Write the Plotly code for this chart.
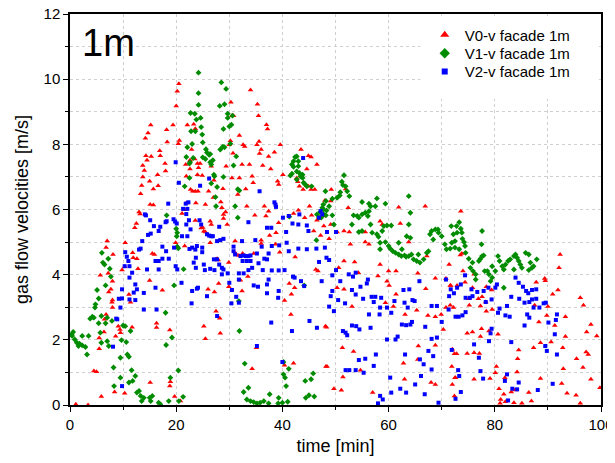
import plotly.graph_objects as go

# V0-v facade 1m  (time [min], velocity [m/s])
v0_pts = [
    (20.5, 9.86), (20.2, 9.63), (20.0, 9.18), (15.2, 8.59), (14.7, 8.35), (14.2, 8.19), (18.2, 8.45),
    (19.4, 8.59), (22.1, 8.59), (23.3, 8.62), (23.6, 8.48), (18.3, 8.07), (20.4, 8.02), (20.6, 8.12),
    (16.9, 7.80), (17.0, 7.65), (15.3, 7.63), (14.3, 7.65), (14.5, 7.51), (13.7, 7.35), (14.0, 7.20),
    (17.9, 7.41), (18.0, 7.18), (16.5, 7.07), (13.7, 7.00), (15.0, 6.87), (13.5, 6.74), (15.7, 6.63),
    (16.6, 6.73), (13.3, 6.48), (15.1, 6.15), (21.8, 7.38), (22.6, 7.51), (23.5, 7.55), (24.0, 7.41),
    (22.6, 7.24), (21.9, 7.02), (22.7, 6.61), (23.1, 6.56), (21.9, 6.20), (24.0, 7.07), (23.6, 6.56),
    (15.7, 6.14), (13.0, 5.92), (13.2, 5.86), (21.1, 5.88), (21.6, 5.99), (23.6, 5.66), (12.5, 5.57),
    (12.2, 5.44), (7.0, 5.03), (6.8, 4.83), (8.1, 4.62), (10.4, 4.98), (11.8, 4.67), (11.9, 4.52),
    (12.6, 4.49), (15.5, 4.65), (15.9, 4.62), (19.9, 4.98), (21.6, 4.88), (12.8, 4.18), (9.8, 4.14),
    (10.3, 4.24), (7.2, 4.04), (5.7, 3.98), (15.0, 3.82), (17.4, 3.52), (8.0, 3.80), (7.7, 3.55),
    (7.3, 3.47), (8.0, 3.22), (7.9, 3.15), (11.1, 3.39), (11.4, 3.15), (8.0, 2.99), (6.8, 2.78),
    (6.5, 2.63), (9.1, 2.42), (9.4, 2.32), (11.7, 2.39), (16.3, 2.51), (16.3, 2.38), (18.8, 2.30),
    (9.5, 2.22), (8.6, 2.11), (5.5, 2.06), (6.4, 2.24), (5.5, 1.73), (4.5, 1.04), (5.0, 1.02),
    (5.9, 0.26), (8.4, 0.40), (10.3, 0.36), (15.1, 0.69), (18.9, 0.71), (18.8, 0.58), (19.7, 0.26),
    (1.1, 0.02), (20.8, 0.12), (3.4, 0.0),
    (34.0, 9.67), (35.3, 9.23), (35.5, 8.88), (30.3, 9.29), (30.5, 8.88), (30.8, 8.88), (37.0, 8.60),
    (37.2, 8.47), (31.9, 8.27), (30.2, 8.11), (30.0, 7.99), (35.6, 8.09), (35.2, 7.99), (32.6, 7.99),
    (32.9, 7.93), (36.0, 7.84), (35.7, 7.72), (39.6, 7.99), (38.5, 7.76), (37.4, 7.63), (30.7, 7.73),
    (33.8, 7.38), (32.4, 7.38), (36.3, 7.35), (37.8, 7.24), (40.1, 7.07), (34.3, 7.02), (29.4, 7.33),
    (30.5, 6.97), (31.9, 6.97), (34.5, 6.82), (39.1, 6.87), (39.3, 6.77), (33.1, 6.63), (28.8, 6.64),
    (27.1, 6.90), (26.6, 7.33), (24.5, 7.41), (24.2, 7.28), (22.9, 7.84), (24.9, 7.04), (24.1, 6.56),
    (26.1, 6.56), (27.0, 6.37), (28.4, 6.23), (28.6, 6.05), (25.5, 6.15), (23.7, 6.20), (31.6, 6.46),
    (33.3, 6.10), (36.6, 6.10), (45.1, 6.10), (43.9, 6.61), (43.5, 7.84), (44.9, 7.65), (45.4, 7.61),
    (46.5, 7.38), (44.6, 7.24), (42.7, 6.97), (42.9, 6.85), (43.2, 6.71), (46.1, 6.61), (44.9, 6.71),
    (45.4, 6.61),
    (28.9, 5.85), (29.3, 5.92), (37.4, 5.95), (34.8, 5.82), (36.9, 5.80), (39.3, 5.59), (37.6, 5.20),
    (38.8, 5.29), (42.1, 5.88), (43.0, 5.98), (44.2, 5.75), (45.5, 5.82), (46.5, 5.67), (45.9, 5.34),
    (47.2, 5.20), (47.6, 5.80), (25.0, 5.45), (24.7, 5.43), (25.2, 5.33), (26.4, 5.64), (26.6, 5.54),
    (28.9, 5.72), (29.6, 5.54), (25.5, 5.31), (26.4, 4.98), (31.1, 5.03), (36.0, 5.06), (36.0, 4.96),
    (38.7, 4.93), (39.5, 4.69), (31.2, 4.65), (31.8, 4.59), (32.5, 4.65), (34.6, 4.65), (27.7, 4.49),
    (27.9, 4.45), (29.9, 4.37), (42.4, 4.54), (46.3, 4.16), (46.7, 4.11), (32.1, 3.83), (33.5, 3.94),
    (29.9, 3.63), (28.0, 3.73), (26.0, 3.55), (27.2, 3.47), (32.4, 3.50), (41.3, 3.73), (42.3, 3.60),
    (41.7, 3.40), (40.4, 3.21), (27.5, 2.88), (28.2, 2.66), (25.2, 2.42), (28.3, 2.20), (25.5, 2.03),
    (41.6, 2.78), (48.1, 2.42), (35.1, 1.76), (34.3, 1.11), (40.4, 1.22), (42.1, 1.28), (48.2, 1.18),
    (49.2, 6.61), (48.0, 6.28), (49.1, 6.26), (51.9, 6.63), (52.4, 6.05), (61.9, 6.07), (66.9, 6.10),
    (47.8, 5.49), (49.1, 5.54), (50.3, 5.31), (51.6, 5.34), (52.6, 5.31), (55.6, 5.31), (58.4, 5.64),
    (58.8, 5.54), (62.2, 5.57), (48.8, 5.10), (52.8, 4.93), (55.6, 5.00), (56.3, 4.93), (63.8, 5.00),
    (67.2, 4.57), (51.6, 4.42), (53.6, 4.39), (58.4, 4.31), (50.6, 4.21), (54.3, 4.06), (58.0, 3.96),
    (60.0, 4.11), (61.4, 4.11), (65.5, 4.04), (68.8, 3.89), (70.8, 3.88), (60.1, 3.67), (50.3, 3.60),
    (51.6, 3.55), (67.0, 3.57), (71.6, 3.67), (59.7, 3.80), (61.4, 3.40), (53.1, 3.02), (59.4, 3.14),
    (60.9, 3.02), (63.1, 2.78), (65.3, 2.91), (67.4, 2.75), (68.8, 2.71), (69.9, 2.78), (70.8, 2.99),
    (71.6, 3.06), (72.2, 2.99), (48.3, 2.39), (70.3, 2.32), (51.3, 1.76), (53.4, 1.64), (65.6, 1.81),
    (68.8, 1.83), (72.4, 1.57), (48.4, 1.18), (54.7, 1.07), (62.8, 1.28), (65.5, 1.40), (51.4, 0.86),
    (63.0, 0.79), (68.0, 0.69), (72.5, 0.84), (49.7, 0.50), (51.1, 0.45), (57.0, 0.38), (68.8, 0.63),
    (72.4, 0.28),
    (73.6, 5.95), (92.3, 4.62), (92.1, 4.21), (73.8, 4.65), (73.5, 4.60), (71.4, 4.31), (74.0, 4.11),
    (74.4, 3.77), (72.9, 3.67), (71.7, 3.67), (76.1, 4.01), (75.8, 3.60), (78.4, 3.63), (79.4, 3.53),
    (76.9, 3.26), (77.6, 3.32), (78.3, 3.16), (75.1, 3.26), (75.2, 3.06), (77.3, 3.04), (79.5, 2.93),
    (78.4, 2.88), (87.8, 3.77), (89.4, 3.88), (89.5, 3.81), (90.9, 3.40), (91.9, 3.53), (90.0, 3.02),
    (87.5, 3.06), (96.1, 3.29), (96.7, 3.06), (88.3, 2.55), (89.8, 2.75), (91.3, 2.44), (93.3, 2.71),
    (98.1, 2.47), (97.3, 2.24), (99.2, 2.12), (93.3, 2.10), (74.8, 2.20), (75.8, 2.24), (77.5, 2.34),
    (77.3, 2.10), (80.6, 2.17), (78.9, 2.27), (72.0, 1.71), (72.8, 1.57), (74.8, 1.58), (76.1, 1.60),
    (77.1, 1.58), (84.5, 1.69), (87.3, 1.76), (88.6, 1.91), (90.6, 1.93), (92.8, 1.76), (97.2, 1.63),
    (95.4, 1.42), (97.6, 1.55), (84.3, 1.42), (80.3, 1.18), (80.1, 0.99), (84.2, 1.01), (92.9, 1.11),
    (96.6, 1.15), (71.9, 1.18), (72.6, 0.84), (76.1, 0.79), (79.1, 0.81), (81.9, 0.84), (88.6, 0.81),
    (98.1, 0.79), (72.0, 0.63), (80.8, 0.50), (81.7, 0.33), (83.1, 0.40), (83.8, 0.46), (86.4, 0.38),
    (92.6, 0.66), (93.6, 0.36), (95.3, 0.30), (81.1, 0.17), (83.6, 0.07), (85.1, 0.05), (86.9, 0.12),
    (96.1, 0.05), (99.8, 0.53), (81.0, 0.05), (82.0, 0.10),
]

# V1-v facade 1m
v1_pts = [
    (6.0, 4.67), (7.2, 4.49), (6.2, 4.37), (6.5, 4.31), (7.5, 4.18), (7.7, 3.94), (6.7, 3.67),
    (5.1, 3.53), (5.4, 3.27), (4.8, 3.09), (4.7, 2.99), (4.2, 2.71), (3.8, 2.65), (4.5, 2.68),
    (5.9, 2.73), (7.0, 2.68), (7.9, 2.58), (5.4, 2.51), (6.7, 2.51), (5.7, 2.22), (10.0, 2.44),
    (10.4, 2.42), (11.4, 2.27), (0.6, 2.24), (0.3, 2.17), (0.4, 2.12), (0.9, 2.01), (1.3, 1.91),
    (1.6, 1.81), (1.8, 1.88), (2.3, 1.83), (2.9, 1.78), (3.2, 1.55), (3.5, 2.12), (2.3, 2.12),
    (5.9, 1.91), (7.0, 1.96), (7.3, 1.81), (9.7, 1.99), (10.6, 1.93), (19.6, 3.67), (18.0, 2.83),
    (19.2, 2.07), (18.1, 1.84), (9.5, 1.45), (10.8, 1.55), (11.1, 1.48), (8.2, 1.15), (11.6, 1.07),
    (12.3, 0.89), (8.3, 0.58), (11.1, 0.69), (11.8, 0.74), (9.5, 0.84), (13.0, 0.43), (12.6, 0.38),
    (13.3, 0.28), (13.5, 0.12), (13.9, 0.22), (15.0, 0.22), (15.5, 0.28), (15.2, 0.12), (16.7, 0.07),
    (17.0, 0.02), (18.6, 0.12), (18.9, 0.84), (20.4, 1.06), (21.3, 0.25), (20.5, 0.12), (18.2, 5.82),
    (20.0, 5.41), (20.2, 5.29), (20.1, 5.18), (20.2, 4.86), (20.4, 4.81), (21.4, 4.17),
    (24.2, 10.2), (24.2, 9.57), (24.2, 9.21), (22.7, 8.96), (23.5, 8.94), (23.8, 8.76), (22.8, 8.40),
    (23.6, 8.40), (23.0, 8.01), (22.1, 7.91), (21.9, 7.61), (23.2, 7.58), (22.5, 7.41), (22.6, 7.45),
    (21.6, 6.71), (22.5, 6.97),
    (28.5, 9.90), (29.4, 9.70), (28.2, 9.18), (29.1, 9.23), (24.6, 8.81), (29.7, 8.94), (30.6, 8.88),
    (30.4, 8.60), (30.0, 8.55), (29.7, 8.81), (28.9, 8.47), (24.7, 8.53), (24.9, 8.30), (25.0, 8.06),
    (30.2, 8.02), (28.8, 7.93), (29.1, 7.91), (28.3, 7.84), (25.6, 7.85), (25.8, 7.75), (26.2, 7.68),
    (26.4, 7.70), (26.4, 7.45), (26.6, 7.38), (26.9, 7.51), (25.0, 7.60), (25.5, 7.55), (27.1, 7.07),
    (27.2, 7.02), (28.9, 7.00), (30.8, 7.35), (31.3, 7.63), (27.7, 6.69), (31.6, 6.62), (31.9, 6.58),
    (26.6, 6.80), (27.4, 6.38), (31.1, 6.10),
    (41.5, 7.04), (41.8, 7.10), (41.8, 7.38), (42.1, 7.48), (42.4, 7.61), (42.7, 7.63), (42.1, 7.31),
    (43.0, 7.33), (43.0, 7.48), (42.7, 7.17), (43.2, 7.12), (43.8, 7.07), (42.7, 6.92), (43.4, 7.02),
    (43.8, 6.97), (44.0, 6.82), (44.3, 6.77), (44.6, 6.71), (45.5, 6.71), (48.1, 6.56), (48.2, 6.26),
    (47.7, 6.15),
    (27.5, 6.10), (31.6, 5.75), (31.8, 3.19), (31.9, 2.27), (32.9, 1.27), (33.6, 0.53), (32.7, 0.40),
    (33.3, 0.17), (34.0, 0.12), (34.6, 0.09), (35.2, 0.05), (35.8, 0.07), (36.5, 0.12), (37.4, 0.05),
    (37.6, 0.33), (39.2, 0.05), (39.3, 0.22), (40.0, 0.07), (41.0, 0.10), (40.2, 1.32), (41.2, 1.11),
    (40.2, 0.94), (40.5, 0.84), (40.7, 0.58), (44.3, 0.74), (45.4, 0.79), (45.8, 0.97), (45.0, 0.30),
    (46.0, 0.26), (44.4, 0.22), (46.5, 5.85), (47.1, 5.92), (47.7, 6.00), (48.2, 5.82), (47.3, 5.75),
    (46.4, 5.06), (44.1, 3.67), (41.3, 5.78),
    (51.6, 7.05), (51.2, 6.85), (51.4, 6.75), (51.9, 6.71), (52.2, 6.56), (52.6, 6.41), (50.3, 6.36),
    (50.8, 6.43), (50.9, 6.53), (49.4, 6.33), (48.3, 5.97), (55.0, 6.23), (56.3, 6.18), (56.6, 6.10),
    (57.8, 6.34), (57.5, 6.10), (59.4, 6.18), (63.8, 6.41),
    (47.5, 6.05), (48.8, 6.10), (49.4, 5.82), (47.8, 5.85), (46.9, 5.75), (49.7, 5.54), (53.4, 5.82),
    (54.1, 5.80), (54.4, 5.75), (55.0, 5.85), (55.6, 5.90), (56.1, 5.80), (56.3, 5.95), (53.1, 5.54),
    (54.4, 5.31), (55.0, 5.34), (56.6, 5.54), (56.9, 5.29), (57.8, 5.24), (58.1, 5.16), (58.8, 5.34),
    (59.1, 5.49), (59.7, 5.51), (60.5, 5.51), (58.4, 4.98), (58.4, 4.78), (59.4, 5.00), (60.0, 4.88),
    (60.3, 4.80), (60.8, 4.72), (61.3, 4.67), (61.9, 4.62), (62.4, 4.57), (63.0, 4.59), (63.3, 4.55),
    (63.8, 4.57), (64.3, 4.62), (64.7, 4.47), (65.3, 4.42), (65.9, 4.37), (66.6, 4.47), (67.2, 4.67),
    (67.5, 4.72), (65.6, 4.62), (61.9, 4.98), (62.5, 4.78), (63.4, 5.18), (64.1, 5.13), (63.8, 5.54),
    (64.1, 5.90), (67.8, 5.24), (68.1, 5.34), (68.8, 5.39), (69.3, 5.39), (69.4, 5.29), (70.0, 5.18),
    (68.4, 5.08), (70.6, 4.93), (70.9, 4.78), (71.6, 4.80), (71.9, 4.98), (72.5, 5.03), (71.8, 5.49),
    (72.8, 5.49), (72.2, 5.24),
    (72.9, 5.29), (73.3, 5.61), (73.6, 5.41), (73.8, 5.29), (73.9, 5.10), (74.2, 5.00), (73.3, 4.78),
    (72.5, 4.83), (74.4, 4.88), (74.5, 4.67), (75.1, 4.49), (75.8, 4.37), (75.4, 4.21), (75.9, 4.11),
    (76.4, 4.01), (76.4, 3.85), (77.0, 4.42), (77.3, 4.49), (77.6, 4.57), (77.6, 5.34), (77.5, 4.93),
    (77.9, 4.59), (78.6, 4.11), (78.9, 4.01), (79.5, 4.26), (80.1, 4.11), (80.6, 4.57), (80.9, 4.42),
    (81.4, 4.26), (81.7, 4.16), (82.0, 4.31), (82.5, 4.42), (82.9, 4.47), (83.6, 4.57), (83.9, 4.62),
    (84.2, 4.52), (84.5, 4.42), (84.8, 4.31), (85.1, 4.21), (85.8, 4.67), (86.4, 4.62), (86.7, 4.37),
    (87.0, 4.21), (87.3, 4.26), (87.9, 4.47), (86.4, 4.14), (79.2, 3.80), (79.5, 3.91), (81.7, 3.60),
    (78.1, 4.11), (83.6, 4.16),
]

# V2-v facade 1m
v2_pts = [
    (19.9, 7.45), (20.5, 6.82), (18.5, 6.18), (21.8, 6.18), (22.3, 6.22), (22.1, 6.02), (21.3, 6.02),
    (21.9, 5.86), (14.1, 5.85), (14.3, 5.82), (15.1, 5.67), (17.0, 5.47), (18.0, 5.61), (18.2, 5.64),
    (19.5, 5.70), (19.8, 5.63), (20.1, 5.57), (15.8, 5.49), (16.7, 5.34), (15.2, 5.26), (14.7, 5.22),
    (13.6, 5.03), (13.0, 4.77), (13.3, 4.80), (10.4, 4.69), (10.7, 4.55), (11.0, 4.42), (10.3, 4.26),
    (11.2, 4.26), (17.4, 4.86), (18.1, 4.72), (19.6, 4.83), (21.1, 5.18), (22.1, 5.18), (21.9, 5.54),
    (22.7, 5.39), (23.6, 4.77), (22.5, 4.79), (23.3, 4.37), (16.1, 4.42), (16.7, 4.42), (17.4, 4.49),
    (18.6, 4.49), (19.9, 4.26), (20.2, 4.16), (14.5, 4.16), (16.7, 4.16), (11.7, 4.06), (11.2, 3.91),
    (12.3, 3.70), (12.6, 3.55), (12.0, 3.45), (9.8, 3.55), (13.9, 3.44), (16.1, 3.60), (21.0, 3.75),
    (23.9, 3.57), (22.9, 3.12), (9.2, 3.26), (9.8, 3.27), (11.2, 3.24), (12.3, 3.22), (9.5, 2.99),
    (13.9, 2.93), (16.3, 2.93), (8.9, 2.63), (8.7, 2.65), (8.1, 1.79), (9.8, 0.58),
    (24.5, 6.73), (26.2, 6.95), (35.7, 6.56), (38.5, 6.22), (38.7, 6.15), (43.9, 7.58),
    (22.4, 5.67), (24.4, 5.67), (24.7, 5.54), (25.8, 5.24), (26.2, 5.20), (26.6, 5.18), (26.9, 5.18),
    (27.7, 5.03), (28.3, 5.06), (28.9, 5.10), (28.1, 5.47), (33.6, 5.61), (38.8, 6.08), (37.1, 5.44),
    (37.9, 5.44), (32.4, 5.03), (34.9, 5.06), (40.1, 5.75), (41.2, 5.80), (41.9, 5.57), (43.0, 5.54),
    (43.2, 5.85), (40.7, 5.31), (44.6, 5.51), (44.9, 5.34),
    (23.0, 4.83), (23.9, 4.88), (24.9, 4.83), (24.9, 4.69), (23.7, 4.52), (23.7, 4.21), (25.2, 4.31),
    (25.4, 4.14), (26.4, 4.18), (27.2, 4.14), (27.1, 4.47), (27.7, 4.47), (28.1, 4.31), (28.6, 4.21),
    (28.9, 4.16), (30.8, 4.86), (30.8, 4.72), (31.1, 4.62), (32.1, 4.57), (32.7, 4.59), (33.1, 4.57),
    (33.6, 4.57), (34.0, 4.59), (32.5, 4.42), (33.3, 4.42), (34.0, 4.42), (35.5, 4.35), (36.6, 4.49),
    (37.1, 4.47), (37.4, 4.65), (35.2, 4.65), (36.1, 4.86), (38.0, 4.88), (39.4, 4.90), (40.8, 4.98),
    (41.2, 4.72), (43.0, 4.80), (44.6, 4.78), (46.4, 4.80), (36.3, 4.14), (38.0, 4.13), (39.3, 4.13),
    (40.4, 4.14), (29.7, 4.04), (28.6, 4.01), (31.8, 4.04), (32.7, 4.04), (33.6, 4.14), (34.3, 4.21),
    (30.0, 3.75), (31.8, 3.85), (34.6, 3.67), (35.4, 3.63), (37.4, 3.85), (37.1, 3.70), (39.3, 3.50),
    (39.2, 3.29), (37.1, 3.43), (42.0, 3.94), (42.3, 3.91), (43.5, 3.80), (44.1, 3.65), (23.0, 3.50),
    (24.1, 3.60), (25.8, 3.34), (30.5, 3.53), (31.3, 3.32), (31.8, 3.14), (30.4, 3.12), (27.7, 2.73),
    (37.9, 2.53), (41.8, 2.27), (45.1, 2.58), (46.5, 2.37), (35.2, 1.81), (40.0, 1.32),
    (47.2, 5.95), (47.5, 5.85), (46.9, 5.75), (48.4, 5.31), (50.1, 5.31), (48.0, 4.83), (46.9, 4.39),
    (48.3, 4.52), (48.8, 4.45), (47.4, 3.80), (50.1, 4.14), (50.9, 3.80), (49.4, 3.98), (52.5, 4.01),
    (53.3, 3.94), (53.8, 4.06), (54.7, 3.63), (56.1, 3.85), (55.9, 3.73), (55.2, 3.26), (49.4, 3.50),
    (49.1, 3.34), (50.5, 3.22), (51.8, 3.12), (48.8, 3.02), (49.7, 2.88), (53.1, 3.53), (53.8, 3.39),
    (56.8, 3.32), (57.5, 3.32), (58.6, 3.29), (58.4, 2.99), (57.2, 3.16), (59.7, 2.99), (60.5, 2.83),
    (61.1, 3.19), (56.3, 2.78), (56.6, 2.37), (58.3, 2.78), (51.4, 2.27), (51.9, 2.22), (52.2, 2.14),
    (53.1, 2.44), (53.9, 2.42), (54.5, 2.32), (59.7, 2.01), (61.3, 2.01), (61.7, 2.10), (62.5, 2.47),
    (63.3, 2.45), (64.1, 2.47), (64.4, 2.55), (62.8, 3.53), (63.9, 3.55), (64.9, 3.19), (64.5, 3.22),
    (63.0, 3.14), (63.6, 2.99), (65.8, 3.80), (68.1, 3.04), (69.1, 3.04), (70.0, 2.55), (70.8, 3.85),
    (71.3, 2.93), (72.6, 2.71), (66.9, 2.40), (68.1, 2.03), (69.1, 2.07), (67.5, 1.66), (68.4, 1.50),
    (63.1, 1.55), (57.6, 1.55), (55.6, 1.42), (54.4, 1.38), (53.8, 1.07), (51.9, 1.07), (52.6, 1.07),
    (55.3, 0.99), (57.2, 1.20), (60.3, 0.84), (60.5, 0.38), (62.2, 0.50), (63.3, 0.38), (65.0, 0.63),
    (66.8, 0.33), (66.1, 0.89), (65.9, 1.40), (66.6, 1.25), (68.1, 1.09), (58.4, 0.28), (58.9, 0.17),
    (58.0, 0.05), (69.4, 0.07), (72.6, 0.19),
    (71.7, 3.55), (71.4, 3.34), (73.6, 3.70), (74.4, 3.98), (72.9, 3.60), (72.3, 3.43), (74.5, 3.29),
    (75.3, 3.29), (75.8, 3.34), (75.6, 3.55), (76.7, 3.47), (77.9, 3.50), (78.8, 3.60), (80.1, 3.60),
    (80.4, 3.70), (83.9, 3.91), (84.5, 3.75), (85.3, 3.63), (85.9, 3.50), (86.3, 3.43), (87.0, 3.53),
    (87.8, 3.55), (87.8, 3.26), (87.0, 3.24), (86.5, 3.16), (85.6, 3.14), (84.6, 3.26), (83.1, 3.32),
    (89.2, 3.12), (89.6, 3.14), (88.4, 2.99), (87.3, 2.99), (78.3, 3.16), (79.4, 3.24), (80.9, 2.96),
    (80.6, 2.83), (82.3, 3.04), (82.0, 2.75), (82.8, 2.71), (86.1, 2.78), (86.5, 2.68), (73.2, 2.71),
    (73.9, 2.75), (74.5, 2.85), (79.4, 2.34), (79.2, 2.20), (78.9, 1.96), (76.1, 1.86), (77.0, 1.45),
    (85.6, 2.44), (83.1, 1.93), (90.1, 2.53), (91.7, 2.78), (91.5, 2.61), (91.3, 2.17), (89.5, 1.81),
    (89.8, 1.66), (91.7, 1.55), (71.9, 1.69), (73.1, 1.07), (73.3, 0.89), (73.6, 0.40), (77.3, 1.04),
    (77.8, 0.81), (82.3, 0.94), (81.9, 0.74), (84.5, 0.69), (84.2, 0.48), (83.3, 0.50), (82.5, 0.14),
    (88.1, 0.46), (90.9, 0.65),
]

# name, points, symbol, colour, marker size, legend symbol size, legend row (paper y), legend id
series = [
    ('V0-v facade 1m', v0_pts, 'triangle-up', '#FF0000', 5, 8, 0.946, 'legend'),
    ('V1-v facade 1m', v1_pts, 'diamond', '#008C00', 4.5, 8, 0.899, 'legend2'),
    ('V2-v facade 1m', v2_pts, 'square', '#0000FF', 4, 6, 0.852, 'legend3'),
]

fig = go.Figure()

# white patch behind the legend so the grid does not show there (below the markers)
fig.add_trace(go.Scatter(x=[66, 99.6, 99.6, 66, 66], y=[9.4, 9.4, 11.95, 11.95, 9.4],
                         mode='lines', fill='toself', fillcolor='white',
                         line=dict(width=0, color='white'), hoverinfo='skip', showlegend=False))

for name, pts, sym, col, sz, lsz, ly, lg in series:
    t = [p[0] for p in pts]
    v = [p[1] for p in pts]
    fig.add_trace(go.Scatter(x=t, y=v, mode='markers', showlegend=False,
                             marker=dict(symbol=sym, color=col, size=sz, line=dict(width=0))))

legend_layout = {}
for name, pts, sym, col, sz, lsz, ly, lg in series:
    # legend-only entry with bigger symbol, one legend per row to match the tight spacing
    fig.add_trace(go.Scatter(x=[None], y=[None], mode='markers', name=name, legend=lg,
                             marker=dict(symbol=sym, color=col, size=lsz)))
    legend_layout[lg] = dict(x=0.668, y=ly, xanchor='left', yanchor='middle',
                             bgcolor='rgba(0,0,0,0)', borderwidth=0,
                             font=dict(size=15, color='black'), itemwidth=30)

fig.add_annotation(text='1m', xref='paper', yref='paper', x=0.018, y=0.925,
                   xanchor='left', yanchor='middle', showarrow=False,
                   font=dict(size=38, color='black'))

axis_common = dict(
    showline=True, linecolor='black', linewidth=1.5, mirror=True,
    ticks='outside', ticklen=5, tickwidth=1.2, tickcolor='black',
    showgrid=True, gridcolor='#cfcfcf', griddash='dot', gridwidth=1,
    zeroline=False, tickfont=dict(size=15, color='black'), automargin=False,
    ticklabeloverflow='allow',
)

fig.update_xaxes(range=[0, 100], dtick=20, tick0=0,
                 title=dict(text='time [min]', font=dict(size=18, color='black'), standoff=8),
                 minor=dict(dtick=10, ticks='outside', ticklen=3, tickcolor='black',
                            showgrid=True, gridcolor='#cfcfcf', griddash='dot'),
                 **axis_common)
fig.update_yaxes(range=[0, 12], dtick=2, tick0=0,
                 title=dict(text='gas flow velocities [m/s]', font=dict(size=18, color='black'), standoff=10),
                 minor=dict(dtick=1, ticks='outside', ticklen=3, tickcolor='black',
                            showgrid=True, gridcolor='#cfcfcf', griddash='dot'),
                 **axis_common)

# the page body adds an 8px offset, so the margins are shifted to keep the plot area in place
fig.update_layout(
    width=615, height=463,
    margin=dict(l=62, r=22, t=6, b=66),
    plot_bgcolor='white', paper_bgcolor='white',
    font=dict(family='Liberation Sans, Arial, sans-serif', color='black'),
    **legend_layout,
)

fig.write_html('out.html')
